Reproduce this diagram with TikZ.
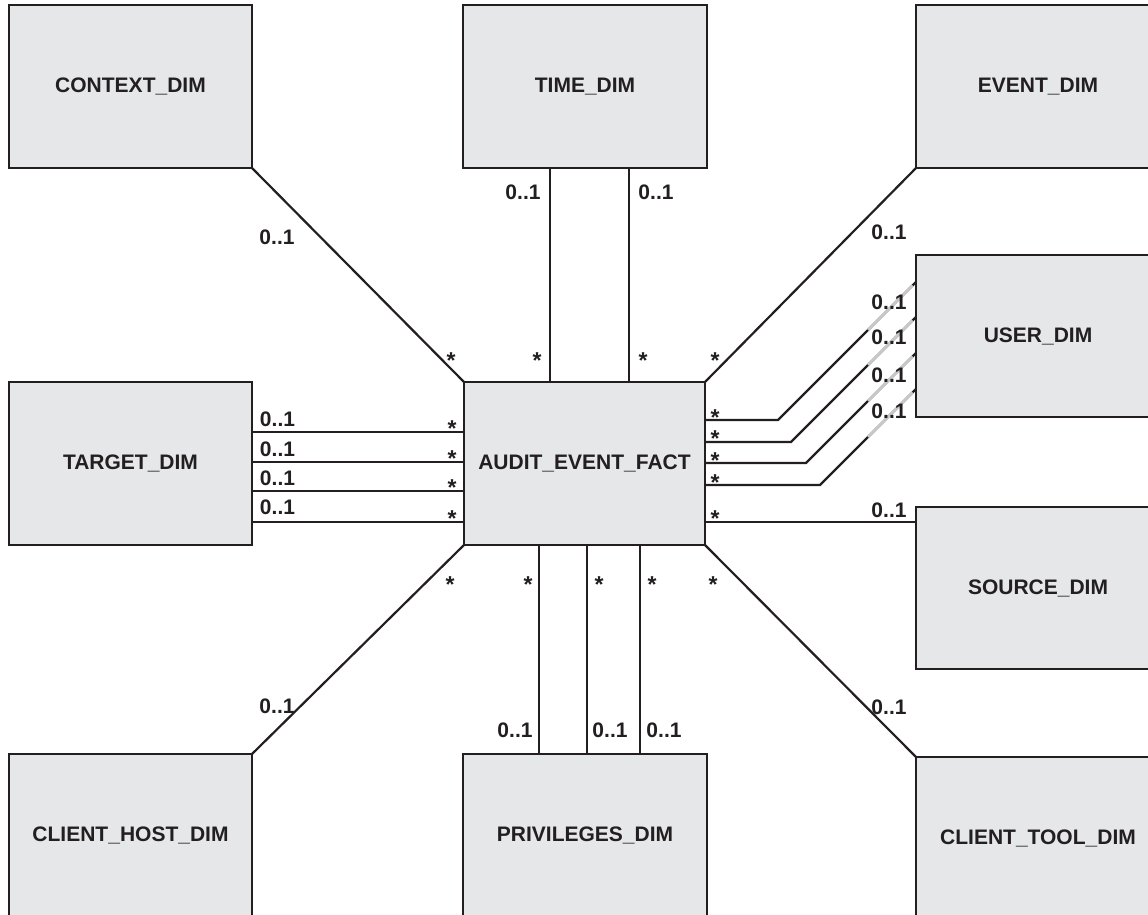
\documentclass[tikz,border=0pt]{standalone}
\usepackage{fontspec}
\setmainfont{Liberation Sans}
\usetikzlibrary{calc}
\definecolor{ink}{HTML}{231F20}
\definecolor{boxfill}{HTML}{E6E7E8}
\definecolor{ghost}{HTML}{C8C8C8}
\tikzset{
  dimbox/.style={draw=ink, fill=boxfill, line width=2.2pt, outer sep=0pt,
    minimum width=244pt, minimum height=163pt, inner sep=0pt,
    text=ink, font=\fontsize{21}{25}\selectfont\bfseries},
  conn/.style={draw=ink, line width=2.2pt},
  ghostseg/.style={draw=ghost, line width=2.2pt},
  mult/.style={text=ink, inner sep=0pt, font=\fontsize{21}{25}\selectfont\bfseries},
  many/.style={text=ink, inner sep=0pt, anchor=base, yshift=-13.3pt,
    font=\fontsize{23}{27}\selectfont\bfseries}
}
\begin{document}
\begin{tikzpicture}[x=1pt,y=-1pt]
\useasboundingbox (0,0) rectangle (1148,915);
\fill[white] (0,0) rectangle (1148,915);
\clip (0,0) rectangle (1148,915);

% boxes
\node[dimbox, minimum width=243pt] (ctx) at (130.5,86.5) {CONTEXT\_DIM};
\node[dimbox] (time) at (585,86.5) {TIME\_DIM};
\node[dimbox] (event) at (1038,86.5) {EVENT\_DIM};
\node[dimbox, minimum height=162pt] (user) at (1038,336) {USER\_DIM};
\node[dimbox, minimum width=243pt] (target) at (130.5,463.5) {TARGET\_DIM};
\node[dimbox, minimum width=241pt] (fact) at (584.5,463.5) {AUDIT\_EVENT\_FACT};
\node[dimbox, minimum height=162pt] (source) at (1038,588) {SOURCE\_DIM};
\node[dimbox, minimum width=243pt] (host) at (130.5,835.5) {CLIENT\_HOST\_DIM};
\node[dimbox] (priv) at (585,835.5) {PRIVILEGES\_DIM};
\node[dimbox] (tool) at (1038,838.5) {CLIENT\_TOOL\_DIM};

% diagonal connectors
\draw[conn] (ctx.south east) -- (fact.north west);
\draw[conn] (event.south west) -- (fact.north east);
\draw[conn] (fact.south west) -- (host.north east);
\draw[conn] (fact.south east) -- (tool.north west);

% time connectors
\draw[conn] ([xshift=-35pt]time.south) -- ([xshift=-35pt]time.south |- fact.north);
\draw[conn] ([xshift=44pt]time.south) -- ([xshift=44pt]time.south |- fact.north);

% privileges connectors
\draw[conn] ([xshift=-46pt]priv.north) -- ([xshift=-46pt]priv.north |- fact.south);
\draw[conn] ([xshift=2pt]priv.north) -- ([xshift=2pt]priv.north |- fact.south);
\draw[conn] ([xshift=55pt]priv.north) -- ([xshift=55pt]priv.north |- fact.south);

% target connectors
\foreach \s in {31.5,1.5,-27.5,-58.5}{
  \draw[conn] ([yshift=\s pt]target.east) -- ([yshift=\s pt]target.east -| fact.west);
}

% source connector
\draw[conn] ([yshift=-58.5pt]fact.east) -- ([yshift=-58.5pt]fact.east -| source.west);

% user connectors
\coordinate (u1) at ([yshift=54pt]user.west);
\coordinate (u2) at ([yshift=19pt]user.west);
\coordinate (u3) at ([yshift=-17pt]user.west);
\coordinate (u4) at ([yshift=-53pt]user.west);
\draw[conn] ([yshift=43.5pt]fact.east) -- ++(73,0) -- (u1);
\draw[conn] ([yshift=21.5pt]fact.east) -- ++(86,0) -- (u2);
\draw[conn] ([yshift=0.5pt]fact.east) -- ++(101,0) -- (u3);
\draw[conn] ([yshift=-21.5pt]fact.east) -- ++(115,0) -- (u4);
\foreach \u in {u1,u2,u3,u4}{
  \draw[ghostseg] ($(\u)+(-48,48)$) -- ($(\u)+(-3.5,3.5)$);
}

% multiplicity labels 0..1
\node[mult] (m1) at (277,237) {0..1};
\node[mult] (m2) at (523,192) {0..1};
\node[mult] (m3) at (656,192) {0..1};
\node[mult] (m4) at (889,232) {0..1};
\node[mult] (m5) at (889,302) {0..1};
\node[mult] (m6) at (889,337) {0..1};
\node[mult] (m7) at (889,375) {0..1};
\node[mult] (m8) at (889,411) {0..1};
\node[mult] (m9) at (889,510) {0..1};
\node[mult] (m10) at (889,707) {0..1};
\node[mult] (m11) at (277.5,419) {0..1};
\node[mult] (m12) at (277.5,449) {0..1};
\node[mult] (m13) at (277.5,478) {0..1};
\node[mult] (m14) at (277.5,507) {0..1};
\node[mult] (m15) at (277,706) {0..1};
\node[mult] (m16) at (515,730) {0..1};
\node[mult] (m17) at (610,730) {0..1};
\node[mult] (m18) at (664,730) {0..1};

% multiplicity labels *
\node[many] (s1) at (451,355) {*};
\node[many] (s2) at (537,355) {*};
\node[many] (s3) at (643,355) {*};
\node[many] (s4) at (715,355) {*};
\node[many] (s5) at (715,412) {*};
\node[many] (s6) at (715,433) {*};
\node[many] (s7) at (715,455) {*};
\node[many] (s8) at (715,477) {*};
\node[many] (s9) at (715,513) {*};
\node[many] (s10) at (452,423) {*};
\node[many] (s11) at (452,453) {*};
\node[many] (s12) at (452,482) {*};
\node[many] (s13) at (452,513) {*};
\node[many] (s14) at (450,579) {*};
\node[many] (s15) at (528,579) {*};
\node[many] (s16) at (599,579) {*};
\node[many] (s17) at (652,579) {*};
\node[many] (s18) at (713,579) {*};
\end{tikzpicture}
\end{document}
